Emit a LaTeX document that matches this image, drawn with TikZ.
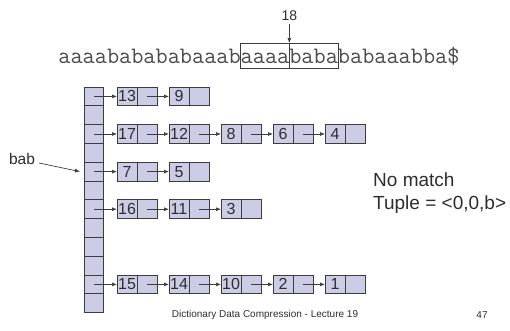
\documentclass[tikz,border=0pt]{standalone}
\usepackage{fontspec}
\setmainfont{Liberation Sans}
\usetikzlibrary{arrows.meta}

\definecolor{cellfill}{RGB}{204,204,230}
\definecolor{cellline}{RGB}{60,60,60}
\definecolor{ink}{RGB}{45,45,45}
\definecolor{seqink}{RGB}{75,75,75}

\tikzset{
  cell/.style={draw=cellline, fill=cellfill, line width=0.8pt,
    minimum width=20pt, minimum height=18.8pt, inner sep=0pt, outer sep=0pt,
    text=ink, font=\fontsize{16}{18}\selectfont},
  ptr/.style={-{Latex[length=5pt,width=4pt]}, draw=cellline, line width=0.7pt},
  seq/.style={inner sep=0pt, outer sep=0pt, anchor=base west, text=seqink,
    text height=20pt, text depth=5pt, font=\ttfamily\fontsize{23.6}{26}\selectfont},
  boxed/.style={seq, draw=cellline, line width=0.6pt},
  lbl/.style={text=ink, inner sep=0pt}
}

\begin{document}
\begin{tikzpicture}[x=1pt, y=-1pt]
  \useasboundingbox (0,0) rectangle (510,330);

  % text string with the two highlighted windows
  \node[seq] (pre) at (58.4,63) {aaaababababaaab};
  \node[boxed] (w1) at (pre.base east) {aaaa};
  \node[boxed] (w2) at (w1.base east) {baba};
  \node[seq] (post) at (w2.base east) {babaaabba\$};

  % current position marker
  \node[lbl, anchor=south, font=\fontsize{14}{16}\selectfont] (pos) at ([yshift=22pt]w2.north west) {18};
  \draw[ptr] ([yshift=-3pt]pos.south) -- (w2.north west);

  % hash table column
  \foreach \i in {0,...,11} {
    \node[cell, minimum width=19pt] (h\i) at (93.5, 96.4+18.8*\i) {};
  }

  % chained lists of positions
  \foreach \r/\list in {0/{13,9}, 2/{17,12,8,6,4}, 4/{7,5}, 6/{16,11,3}, 10/{15,14,10,2,1}} {
    \foreach \v [count=\k from 0] in \list {
      \node[cell] (k\r-\k) at (127+52*\k, 96.4+18.8*\r) {\v};
      \node[cell, anchor=west] (p\r-\k) at (k\r-\k.east) {};
      \ifnum\k=0
        \draw[ptr] (h\r.center) -- (k\r-\k.west);
      \else
        \pgfmathtruncatemacro\prev{\k-1}
        \draw[ptr] (p\r-\prev.center) -- (k\r-\k.west);
      \fi
    }
  }

  % lookup key
  \node[lbl, font=\fontsize{15.5}{18}\selectfont] (bab) at (22,159) {bab};
  \draw[ptr] ([shift={(4pt,-4pt)}]bab.east) -- ([xshift=-4pt]h4.west);

  % result
  \node[lbl, anchor=west, align=left, font=\fontsize{19}{23}\selectfont] (res) at (373,193)
    {No match\\Tuple = <0,0,b>};

  % footer
  \node[lbl, font=\fontsize{10}{12}\selectfont] (foot) at (265,315)
    {Dictionary Data Compression - Lecture 19};
  \node[lbl, font=\fontsize{10}{12}\selectfont] (page) at (482,315) {47};
\end{tikzpicture}
\end{document}
